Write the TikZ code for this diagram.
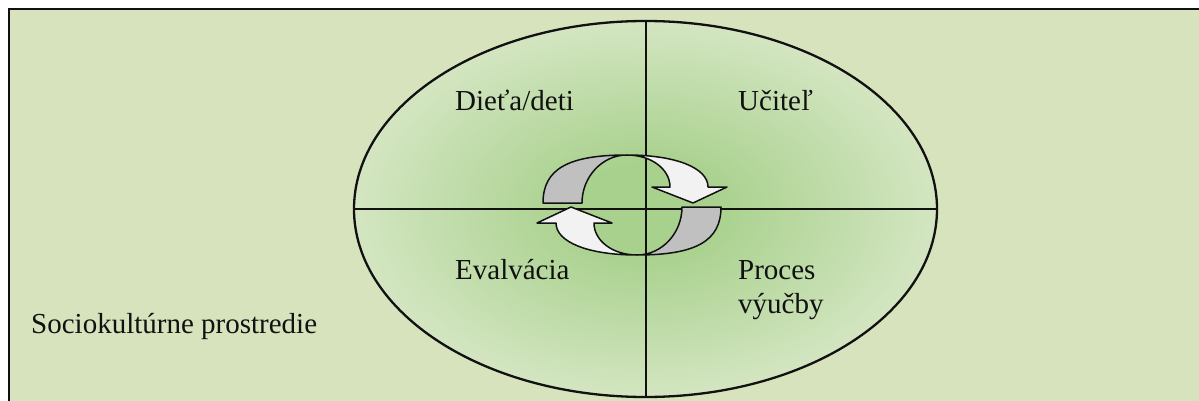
\documentclass[tikz,border=0pt]{standalone}
\usepackage{fontspec}
\setmainfont{Liberation Serif}
\usetikzlibrary{shapes.geometric}
\definecolor{ink}{HTML}{111111}
\definecolor{frameg}{HTML}{D7E3BD}
\definecolor{glowin}{HTML}{A9D18E}
\definecolor{glowout}{HTML}{E3EDD4}
\definecolor{bandgray}{HTML}{C0C0C0}
\definecolor{bandwhite}{HTML}{F2F2F2}
\newcommand{\LabelF}{\fontsize{29}{34}\selectfont}
\pgfdeclareradialshading{ovalglow}{\pgfpoint{0bp}{0bp}}{%
  color(0bp)=(glowin); color(6bp)=(glowin); color(32bp)=(glowout); color(50bp)=(glowout)}

\begin{document}
\begin{tikzpicture}[x=1pt, y=-1pt,
    quad/.style={anchor=base west, inner sep=0pt, font=\LabelF, text=ink, align=left},
    band/.style={draw=ink, line width=1.5pt, line join=round}]
  \useasboundingbox (0,0) rectangle (1199,401);
  \clip (0,0) rectangle (1199,401);
  \fill[white] (0,0) rectangle (1199,401);
  \draw[ink, line width=1.5pt, fill=frameg] (9,9) rectangle (1215,415);

  \node[ellipse, draw=ink, line width=2.3pt, shading=ovalglow,
        minimum width=583pt, minimum height=376pt, inner sep=0pt, outer sep=0pt]
        (oval) at (645.5,209) {};
  \draw[ink, line width=2pt] (oval.north) -- (oval.south);
  \draw[ink, line width=2pt] (oval.west) -- (oval.east);

  % the two turning arrows
  \foreach \turn in {0,180}{
    \begin{scope}[rotate around={\turn:(632,205)}]
      \draw[band, fill=bandgray] (543,203) .. controls (543,169) and (568,155) .. (627,155)
        .. controls (602,155) and (582,177) .. (582,203) -- cycle;
      \draw[band, fill=bandwhite] (627,155) .. controls (676,155) and (708,168) .. (708,187)
        -- (727,187) -- (693,203) -- (652,187) -- (670,187)
        .. controls (670,169) and (651,155) .. (627,155) -- cycle;
    \end{scope}}

  \node[quad] (child) at (455,111) {Dieťa/deti};
  \node[quad] (teacher) at (738,111) {Učiteľ};
  \node[quad] (evaluation) at (455,279) {Evalvácia};
  \node[quad] (process) at (738,313) {Proces\\výučby};
  \node[quad] (milieu) at (31,333) {Sociokultúrne prostredie};
\end{tikzpicture}
\end{document}
